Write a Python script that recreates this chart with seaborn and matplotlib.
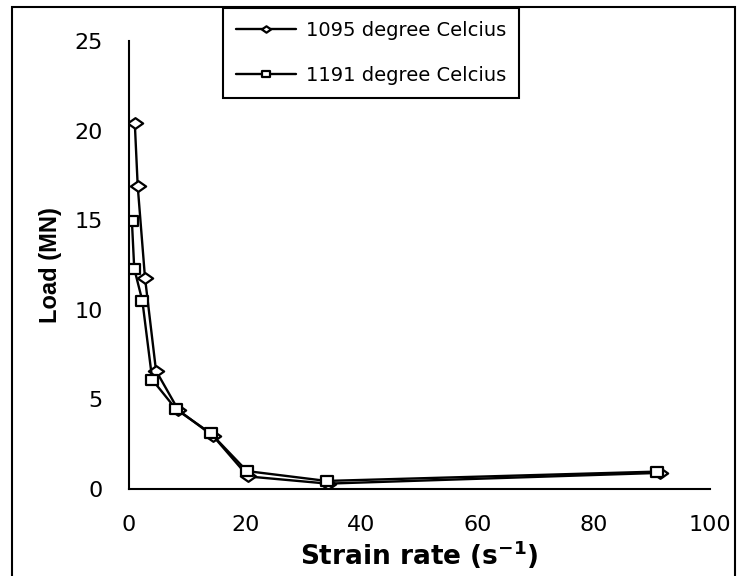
import numpy as np
import pandas as pd
import matplotlib
matplotlib.use("Agg")
import matplotlib.pyplot as plt
from matplotlib.path import Path
from matplotlib.patches import Rectangle
import seaborn as sns

# ---- data ----
series_labels = ["1095 degree Celcius", "1191 degree Celcius"]
x_1095 = [1.0, 1.5, 2.75, 4.65, 8.5, 14.5, 20.5, 34.2, 91.4]
y_1095 = [20.4, 16.9, 11.8, 6.6, 4.4, 2.95, 0.7, 0.3, 0.9]
x_1191 = [0.5, 0.9, 2.3, 4.0, 8.1, 14.1, 20.3, 34.0, 90.8]
y_1191 = [14.95, 12.3, 10.5, 6.1, 4.45, 3.1, 1.0, 0.45, 0.97]
x_ticks = [0, 20, 40, 60, 80, 100]
y_ticks = [0, 5, 10, 15, 20, 25]

sns.set_theme(style="white")
wide = ["DejaVu Sans"]
plt.rcParams["font.family"] = wide
plt.rcParams["mathtext.fontset"] = "dejavusans"

W, H, DPI = 737, 576, 100
fig = plt.figure(figsize=(W / DPI, H / DPI), dpi=DPI)
ax = fig.add_axes([129 / W, 1 - 489 / H, (710 - 129) / W, (489 - 41) / H])

diamond = Path([(-1, 0), (0, 0.7), (1, 0), (0, -0.7), (-1, 0)],
               [Path.MOVETO, Path.LINETO, Path.LINETO, Path.LINETO, Path.CLOSEPOLY])
square = Path([(-1, -0.85), (1, -0.85), (1, 0.85), (-1, 0.85), (-1, -0.85)],
              [Path.MOVETO, Path.LINETO, Path.LINETO, Path.LINETO, Path.CLOSEPOLY])

df1 = pd.DataFrame({"x": x_1095, "y": y_1095})
df2 = pd.DataFrame({"x": x_1191, "y": y_1191})

common = dict(color="black", linewidth=1.7, markerfacecolor="white",
              markeredgecolor="black", markeredgewidth=1.6, sort=False)
sns.lineplot(data=df1, x="x", y="y", ax=ax, marker=diamond, markersize=11,
             label=series_labels[0], **common)
sns.lineplot(data=df2, x="x", y="y", ax=ax, marker=square, markersize=9,
             label=series_labels[1], **common)

ax.set_xlim(0, 100)
ax.set_ylim(0, 25)
ax.set_xticks(x_ticks)
ax.set_yticks(y_ticks)
ax.tick_params(axis="both", which="major", direction="out", color="black",
               width=1.5, labelsize=16, labelcolor="black")
ax.tick_params(axis="x", length=6, pad=13)
ax.tick_params(axis="y", length=8, pad=11)
for s in ["top", "right"]:
    ax.spines[s].set_visible(False)
for s in ["left", "bottom"]:
    ax.spines[s].set_color("black")
    ax.spines[s].set_linewidth(1.5)

ax.set_xlabel(r"Strain rate (s$^{\mathbf{-1}}$)", fontsize=19, fontweight="bold",
              color="black", labelpad=2)
ax.set_ylabel("Load (MN)", fontsize=17, fontweight="bold", color="black",
              labelpad=9, family=["Liberation Sans", "DejaVu Sans"])

leg = ax.legend(loc="upper left", bbox_to_anchor=(223 / W, 1 - 8 / H),
                bbox_transform=fig.transFigure, borderaxespad=0,
                fontsize=14, frameon=True, fancybox=False, framealpha=1,
                edgecolor="black", handlelength=3.1, handletextpad=0.5,
                borderpad=0.65, labelspacing=1.35, markerscale=0.6)
leg.get_frame().set_linewidth(1.5)
for t in leg.get_texts():
    t.set_color("black")

fig.patches.append(Rectangle((12 / W, -0.05), (735 - 12) / W, 1.05 - 7 / H,
                             transform=fig.transFigure, fill=False,
                             edgecolor="black", linewidth=1.5, zorder=0))

fig.savefig("out.png", dpi=DPI)
